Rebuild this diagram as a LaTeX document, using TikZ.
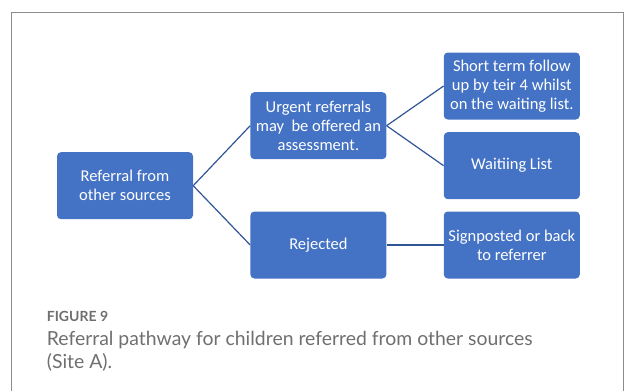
\documentclass[tikz,border=0pt]{standalone}
\usepackage{fontspec}
\setmainfont{Carlito}
\newfontfamily\captionfont{Lato}
\usetikzlibrary{positioning}
\definecolor{boxblue}{HTML}{4472C4}
\definecolor{lineblue}{HTML}{2F5597}
\definecolor{captiongray}{HTML}{6F6F6F}
\definecolor{framegray}{HTML}{8C8C8C}

\begin{document}
\begin{tikzpicture}[
    x=1pt, y=1pt,
    node distance=57pt,
    box/.style={rectangle, rounded corners=4pt, fill=boxblue, text=white,
        minimum width=136pt, minimum height=67pt, inner sep=1pt, align=center,
        font=\fontsize{16.5}{18.8}\selectfont},
    link/.style={draw=lineblue, line width=1.2pt}
]
\useasboundingbox (0,0) rectangle (625,-391);
% --- frame ---
\draw[framegray, line width=1pt] (11,-391) -- (11,-12.3) -- (623,-12.3) -- (623,-391);

% --- boxes ---
\node[box] (ref) at (125,-185.7) {Referral from\\other sources};
\node[box, right=57pt of ref, yshift=60pt] (urgent) {Urgent referrals\\may\ \ be offered an\\assessment.};
\node[box, right=57pt of ref, yshift=-59.3pt] (rejected) {Rejected};
\node[box, right=57pt of urgent, yshift=39.7pt] (short) {Short term follow\\up by teir 4 whilst\\on the waiting list.};
\node[box, right=57pt of urgent, yshift=-40pt] (waiting) {Waitiing List};
\node[box, right=57pt of rejected] (sign) {Signposted or back\\to referrer};

% --- connectors ---
\draw[link] (ref.east) -- (urgent.west);
\draw[link] (ref.east) -- (rejected.west);
\draw[link] (urgent.east) -- (short.west);
\draw[link] (urgent.east) -- (waiting.west);
\draw[link] (rejected.east) -- (sign.west);

% --- caption ---
\node[anchor=base west, inner sep=0pt, text=captiongray,
    font=\captionfont\bfseries\fontsize{14}{16}\selectfont] (figlabel) at (46.7,-321) {FIGURE 9};
\node[inner sep=0pt, text=captiongray, align=left,
    font=\captionfont\fontsize{19.4}{23.5}\selectfont, below=10pt of figlabel.base west, anchor=north west] (caption)
    {Referral pathway for children referred from other sources\\(Site A).};
\end{tikzpicture}
\end{document}
